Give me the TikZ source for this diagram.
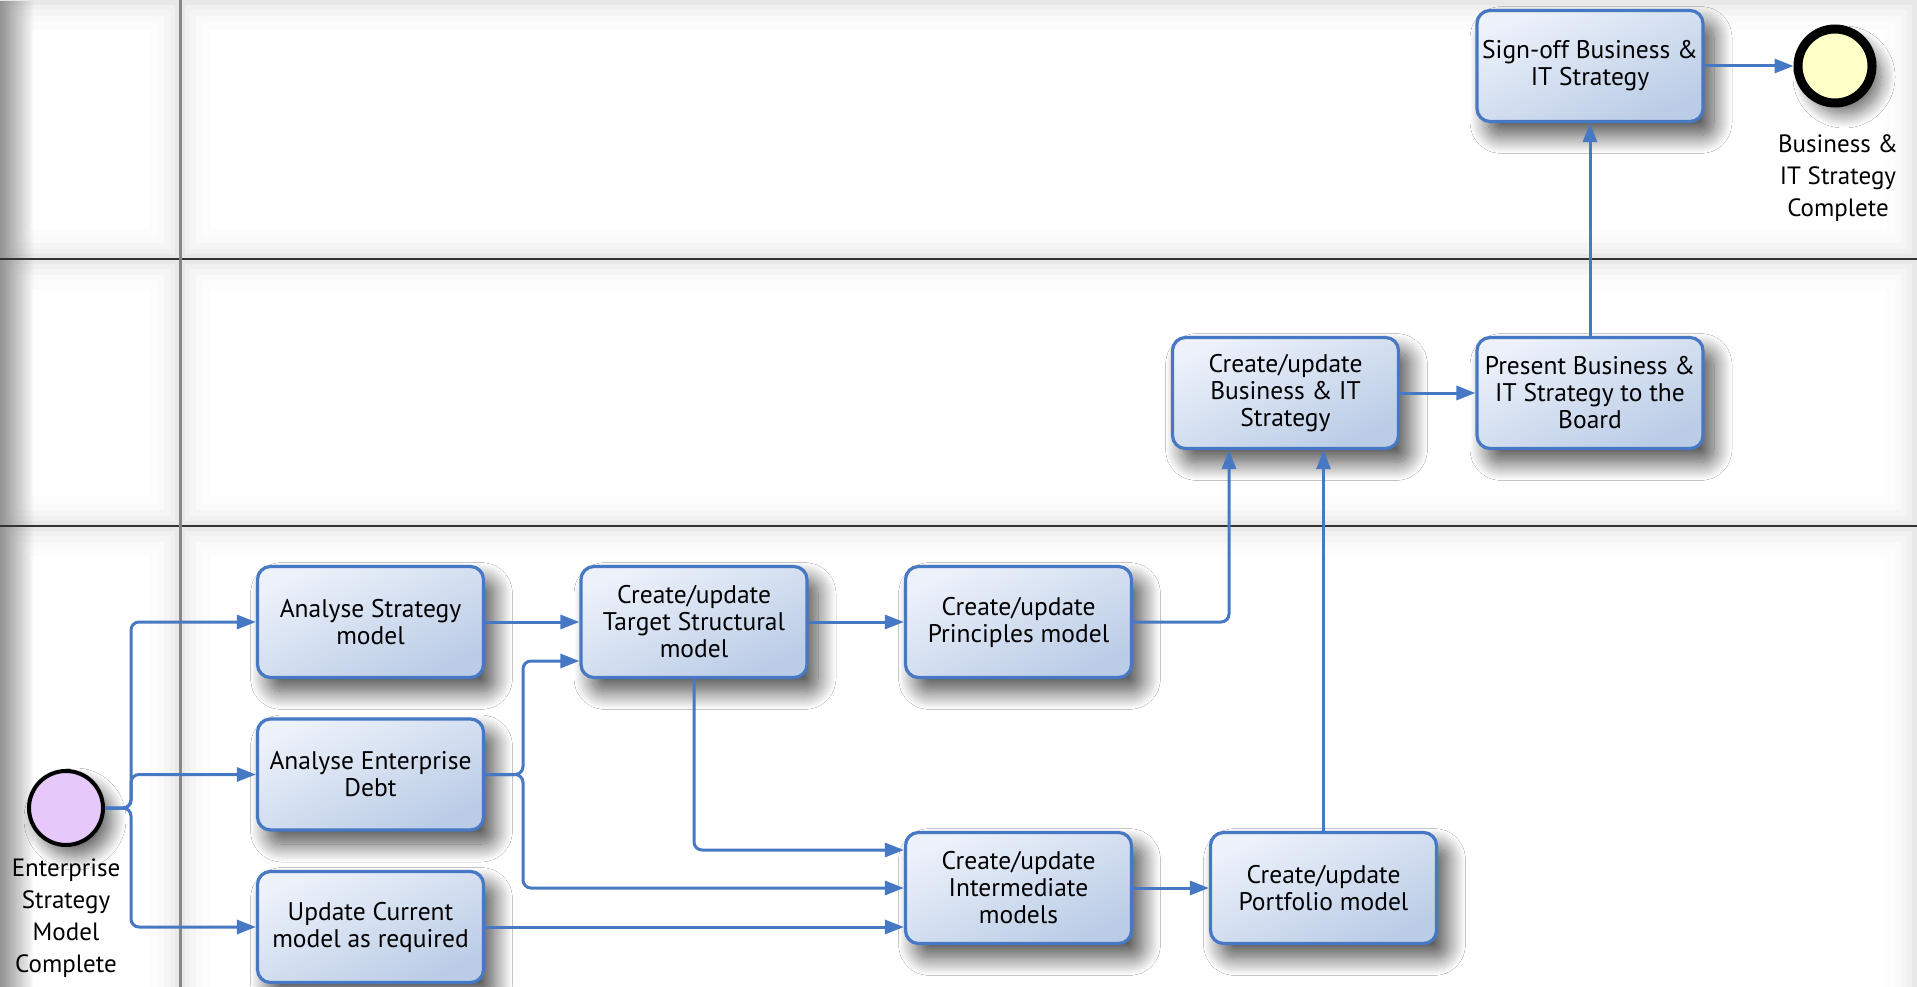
\documentclass[tikz,border=0pt]{standalone}
\usepackage{fontspec}
\setmainfont{PT Sans}
\usetikzlibrary{arrows.meta,shadows.blur,fadings,calc}
\definecolor{flowblue}{RGB}{70,120,196}
\definecolor{boxtop}{RGB}{236,241,250}
\definecolor{boxbot}{RGB}{186,204,230}
\definecolor{startfill}{RGB}{230,200,250}
\definecolor{endfill}{RGB}{255,255,200}
\tikzset{
  task/.style={draw=flowblue, line width=3.2pt, rounded corners=13pt,
    top color=boxtop, bottom color=boxbot, shading angle=25,
    minimum width=226pt, minimum height=111pt, align=center, inner sep=4pt,
    font=\fontsize{25.5}{27}\selectfont,
    blur shadow={shadow xshift=11pt, shadow yshift=-14pt, shadow blur radius=18pt, shadow opacity=70, shadow blur steps=24}},
  flow/.style={draw=flowblue, line width=3pt, rounded corners=8pt,
    -{Triangle[length=19pt,width=14pt]}},
  evlabel/.style={align=center, font=\fontsize{25}{32}\selectfont},
  lanerule/.style={draw=black!80, line width=1.3pt}
}
\newcommand{\lanecell}[4]{%
  \fill[black!9] (#1,#2) rectangle (#3,#4);
  \fill[black!6] ($(#1,#2)+(5,5)$) rectangle ($(#3,#4)+(-5,-5)$);
  \fill[black!4] ($(#1,#2)+(10,10)$) rectangle ($(#3,#4)+(-10,-10)$);
  \fill[black!2] ($(#1,#2)+(16,16)$) rectangle ($(#3,#4)+(-16,-16)$);
  \fill[black!1] ($(#1,#2)+(22,22)$) rectangle ($(#3,#4)+(-22,-22)$);
  \fill[white] ($(#1,#2)+(30,30)$) rectangle ($(#3,#4)+(-30,-30)$);
}
\begin{document}
\begin{tikzpicture}[x=1pt,y=-1pt]
\useasboundingbox (0,0) rectangle (1917,987);
% lanes
\lanecell{0}{0}{180}{259}
\lanecell{180}{0}{1917}{259}
\lanecell{0}{259}{180}{526}
\lanecell{180}{259}{1917}{526}
\lanecell{0}{526}{180}{1017}
\lanecell{180}{526}{1917}{1017}
\fill[black!42, path fading=east] (0,0) rectangle (34,987);
\draw[lanerule] (0,259) -- (1917,259);
\draw[lanerule] (0,526) -- (1917,526);
\draw[draw=black!47, line width=3pt] (180,0) -- (180,987);

% events
\node[circle, draw=black, line width=4pt, fill=startfill, minimum size=74pt, inner sep=0pt,
  blur shadow={shadow xshift=9pt, shadow yshift=-11pt, shadow blur radius=14pt, shadow opacity=60, shadow blur steps=20}] (start) at (66,808) {};
\node[evlabel, anchor=north] (startlbl) at (66,855) {Enterprise\\Strategy\\Model\\Complete};
\node[circle, draw=black, line width=9pt, fill=endfill, minimum size=74pt, inner sep=0pt,
  blur shadow={shadow xshift=9pt, shadow yshift=-11pt, shadow blur radius=14pt, shadow opacity=60, shadow blur steps=20}] (end) at (1835,66) {};
\node[evlabel, anchor=north] (endlbl) at (1838,131) {Business \&\\IT Strategy\\Complete};

% tasks
\node[task] (signoff) at (1590,66) {Sign-off Business \&\\IT Strategy};
\node[task] (cbit) at (1285.5,393) {Create/update\\Business \& IT\\Strategy};
\node[task] (present) at (1590,393) {Present Business \&\\IT Strategy to the\\Board};
\node[task] (as) at (370.5,622) {Analyse Strategy\\model};
\node[task] (tsm) at (694,622) {Create/update\\Target Structural\\model};
\node[task] (pm) at (1018.5,622) {Create/update\\Principles model};
\node[task] (aed) at (370.5,774.5) {Analyse Enterprise\\Debt};
\node[task] (uc) at (370.5,927) {Update Current\\model as required};
\node[task] (im) at (1018.5,888) {Create/update\\Intermediate\\models};
\node[task] (port) at (1323.5,888) {Create/update\\Portfolio model};

% junction coordinates
\coordinate (br) at (131,808);
\coordinate (br2) at (523,774.5);
\coordinate (br3) at (1229,622);

% connectors
\draw[flow] (start.east) -- (br) |- (as.west);
\draw[flow] (start.east) -- (br) |- (aed.west);
\draw[flow] (start.east) -- (br) |- (uc.west);
\draw[flow] (as.east) -- (tsm.west);
\draw[flow] (aed.east) -- (br2) |- ($(tsm.west)+(0,39)$);
\draw[flow] (aed.east) -- (br2) |- (im.west);
\draw[flow] (uc.east) -- (uc.east -| im.west);
\draw[flow] (tsm.south) |- ($(im.west)+(0,-38)$);
\draw[flow] (tsm.east) -- (pm.west);
\draw[flow] (pm.east) -- (br3) -- (br3 |- cbit.south);
\draw[flow] (im.east) -- (port.west);
\draw[flow] (port.north) -- (port.north |- cbit.south);
\draw[flow] (cbit.east) -- (present.west);
\draw[flow] (present.north) -- (signoff.south);
\draw[flow] (signoff.east) -- (end.west);
\end{tikzpicture}
\end{document}
